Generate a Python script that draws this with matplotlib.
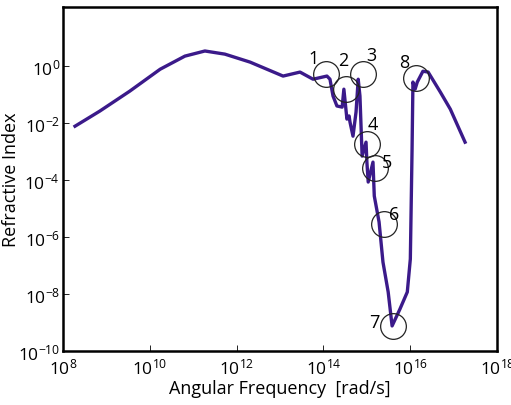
import numpy as np
import matplotlib
matplotlib.use('Agg')
import matplotlib.pyplot as plt

plt.rcParams['font.family'] = ['Open Sans', 'DejaVu Sans']
plt.rcParams['mathtext.fontset'] = 'custom'
plt.rcParams['mathtext.rm'] = 'Open Sans'

# ****Curve data (log10 of frequency and refractive index)****
log_freq = [8.28, 8.85, 9.54, 10.24, 10.81, 11.27, 11.73, 12.31, 13.07, 13.46,
            13.76, 14.08, 14.15, 14.22, 14.31, 14.43, 14.47, 14.54, 14.59, 14.61,
            14.68, 14.75, 14.80, 14.84, 14.89, 14.98, 15.00, 15.03, 15.14, 15.17,
            15.28, 15.37, 15.49, 15.58, 15.76, 15.93, 16.00, 16.04, 16.06, 16.11,
            16.16, 16.29, 16.41, 16.69, 16.92, 17.26]
log_index = [-2.11, -1.58, -0.88, -0.11, 0.35, 0.53, 0.42, 0.14, -0.35, -0.21,
             -0.46, -0.35, -0.46, -1.05, -1.40, -1.44, -0.81, -1.86, -1.75, -1.96,
             -2.46, -1.61, -0.46, -1.05, -3.16, -2.67, -3.37, -4.07, -3.37, -4.56,
             -5.47, -6.88, -7.93, -9.12, -8.53, -7.93, -6.77, -2.91, -0.56, -0.81,
             -0.56, -0.18, -0.21, -0.91, -1.51, -2.67]

# ****Marked features****
mark_labels = ['1', '2', '3', '4', '5', '6', '7', '8']
mark_freq = [14.05, 14.51, 14.91, 15.00, 15.19, 15.40, 15.61, 16.13]
mark_index = [-0.28, -0.81, -0.28, -2.74, -3.58, -5.54, -9.12, -0.42]
label_freq = [13.78, 14.46, 15.11, 15.14, 15.46, 15.62, 15.18, 15.85]
label_index = [0.28, 0.21, 0.39, -2.04, -3.37, -5.20, -8.99, 0.14]

freq = 10.0 ** np.array(log_freq)
index = 10.0 ** np.array(log_index)

fig = plt.figure(figsize=(5.11, 4.06), dpi=100)
ax = fig.add_axes([0.123, 0.133, 0.850, 0.847])

ax.loglog(freq, index, color='#3b1a8a', lw=2.4)
ax.plot(10.0 ** np.array(mark_freq), 10.0 ** np.array(mark_index), 'o',
        ms=18.5, mfc='none', mec='#222222', mew=0.9)
for lab, lx, ly in zip(mark_labels, label_freq, label_index):
    ax.text(10.0 ** lx, 10.0 ** ly, lab, fontsize=13, ha='center', va='center')

ax.set_xlim(1e8, 1e18)
ax.set_ylim(1e-10, 10 ** 2.07)
ax.set_xticks([10.0 ** e for e in range(8, 19, 2)])
ax.set_xticklabels([r'$\mathregular{10^{%d}}$' % e for e in range(8, 19, 2)])
ax.set_yticks([10.0 ** e for e in range(-10, 1, 2)])
ax.set_yticklabels([r'$\mathregular{10^{%d}}$' % e for e in range(-10, 1, 2)])
ax.minorticks_off()
ax.tick_params(direction='in', length=4, width=0.6, labelsize=12.5)
ax.tick_params(axis='x', pad=5)
ax.tick_params(axis='y', pad=2)
for s in ax.spines.values():
    s.set_linewidth(1.8)

ax.set_xlabel('Angular Frequency  [rad/s]', fontsize=13, labelpad=1)
ax.set_ylabel('Refractive Index', fontsize=13, labelpad=0)
ax.yaxis.set_label_coords(-0.098, 0.5)

fig.savefig('out.png', dpi=100)
